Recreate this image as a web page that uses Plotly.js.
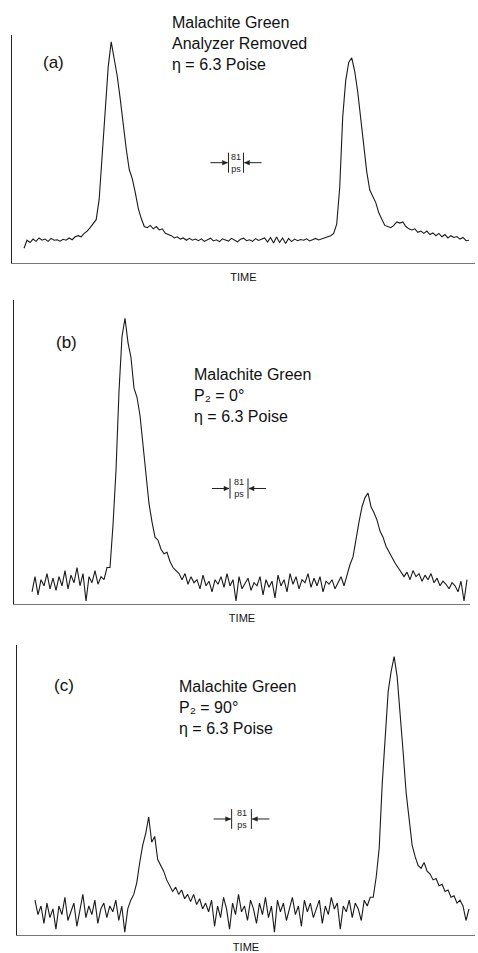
<!DOCTYPE html>
<html>
<head>
<meta charset="utf-8">
<script src="https://cdn.plot.ly/plotly-3.0.1.min.js"></script>
<style>html,body{margin:0;padding:0;background:#fff;}#chart{width:478px;height:953px;}</style>
</head>
<body>
<div id="chart"></div>
<script>
// Channel (time) index where each recorded trace starts
const startA = 4;
const startB = 6;
const startC = 6;

// (a) Malachite Green, analyzer removed, eta = 6.3 Poise (relative intensity)
const traceA = [
  6.5,10,9,10.5,9.5,11,10,10.5,9.5,10.8,
  10,10.2,9.6,10.4,10,11,10.2,11.5,12,11.5,
  13,14,15.5,17,19,28,48,68,86,97,
  90,82,72,60,50,41,37,31,24,19.5,
  16,15.5,16.5,15,16,14.5,15,13,12.5,12,
  11,11.5,10.5,11,10,10.8,10,
  10.5,9.8,10.6,9.5,10.3,10.9,9.7,10.2,9.4,10.6,
  10.1,9.6,10.8,10,9.3,10.4,10.9,9.8,10.2,9.5,
  10.7,9.9,10.4,11,9.2,11.2,8.8,11.4,9,11,
  8.6,10.8,9.4,10.5,9.8,10.3,10,10.6,9.7,10.2,
  10.8,10.1,10.5,10.9,11.3,12,
  13,17,33,64,80,88,90,84,75,63,
  52,40,32,29,26.5,22,19,16.5,16,15.5,
  16.5,18,17.5,18,16,15,14.5,15,13.5,14,
  13,14,12.5,13.2,12,13,11.5,12.5,11,12,
  11.2,11.6,10.5,11.2,9.8,10
];

// (b) Malachite Green, P2 = 0 deg
const traceB = [
  4,9,3,8,6,10,5,8.5,4.5,9,
  6,11,5,9.5,7,12,6,10,1,9,
  7,11,6.5,9,8,12,
  12,26,44,70,88,94,86,81,71,68,
  62,52,42,33,27,22,21,18,16.5,17,
  14,12,11,10,8,10,6.5,9,7,
  8,5,9.5,6,7.5,4,8,6.5,9,5.5,
  10,6,8,1,9,5,7,8.5,4.5,7,
  6,9,3,8,5.5,7.5,2,9.5,6,8,
  4,10,6.5,9,5,8,7,10,5.5,8.5,
  6,9,4,7.5,6.5,8,5,7,9,
  6,10,13,15.5,22,27,32,35,36.5,32,
  30,27.6,24,22,19,17,15.5,13.5,12,10.5,
  9,10.5,8,11,9,10,7.5,9.5,8,10,
  7,8.5,6,7.5,6.5,5,7,6,4,7.5,
  1,8
];

// (c) Malachite Green, P2 = 90 deg
const traceC = [
  12,7,10,4,11,6,9,2,10,7,
  13,5,8,11,3,9,14,6,10,7,
  12,4,9,11,6,10,8,12,5,10,
  1,9,
  12,14,18,25,31,35,40.7,32,34,26,
  24,22,19,17,15,16.5,14,15.5,12.5,14,
  11.5,14,10.5,12.5,9,11,
  8,12,3,10,6,13,9,2,11,7,
  14,8,10,5,12,9,4,11,7,13,
  6,10,1,12,8,11,5,9,13,7,
  10,3,12,8,11,6,9,12,4,10,
  7,13,9,11,2,10,8,12,6,11,
  9,5,12,10,13,
  13,20,30,52,70,84,91,96,89,77,
  63,49,39,31,27,24,23,25,22,21,
  19,19.5,17,17.5,15,15.5,13,13.5,11,12,
  10,5,9
];

// 81 ps scale bar: channel positions of the two bars and its height in each panel
const barA = [72, 77], barAy = 44;
const barB = [72, 78], barBy = 38;
const barC = [71.7, 78.3], barCy = 40;

const labelA = 'Malachite Green<br>Analyzer Removed<br>η = 6.3 Poise';
const labelB = 'Malachite Green<br>P₂ = 0°<br>η = 6.3 Poise';
const labelC = 'Malachite Green<br>P₂ = 90°<br>η = 6.3 Poise';

function xs(start, arr) { return arr.map((_, i) => start + i); }

const lineStyle = {color: '#1a1a1a', width: 1.1};
const data = [
  {x: xs(startA, traceA), y: traceA, xaxis: 'x', yaxis: 'y', mode: 'lines', line: lineStyle, hoverinfo: 'skip'},
  {x: xs(startB, traceB), y: traceB, xaxis: 'x2', yaxis: 'y2', mode: 'lines', line: lineStyle, hoverinfo: 'skip'},
  {x: xs(startC, traceC), y: traceC, xaxis: 'x3', yaxis: 'y3', mode: 'lines', line: lineStyle, hoverinfo: 'skip'}
];

const FONT = 'Liberation Sans, Arial, sans-serif';
function xax(domain, range, anchor) {
  return {domain: domain, range: range, anchor: anchor, showline: true, linecolor: '#777', linewidth: 1.2,
    showgrid: false, zeroline: false, showticklabels: false, ticks: '', fixedrange: true,
    title: {text: 'TIME', font: {family: FONT, size: 11, color: '#111'}, standoff: 10}};
}
function yax(domain, anchor) {
  return {domain: domain, range: [0, 100], anchor: anchor, showline: true, linecolor: '#222', linewidth: 1,
    showgrid: false, zeroline: false, showticklabels: false, ticks: '', fixedrange: true};
}

const shapes = [];
const annotations = [];
function scaleBar(bar, yc, half, xr, yr) {
  const ln = {color: '#222', width: 1};
  bar.forEach(b => shapes.push({type: 'line', xref: xr, yref: yr, x0: b, x1: b, y0: yc - half, y1: yc + half, line: ln}));
  // arrow shafts (pixel lengths) pointing in toward the bars
  [[bar[0], -1], [bar[1], 1]].forEach(([b, s]) => {
    shapes.push({type: 'line', xref: xr, yref: yr, xsizemode: 'pixel', ysizemode: 'pixel',
      xanchor: b, yanchor: yc, x0: s * 18, x1: s * 1, y0: 0, y1: 0, line: ln});
    shapes.push({type: 'path', xref: xr, yref: yr, xsizemode: 'pixel', ysizemode: 'pixel',
      xanchor: b, yanchor: yc, path: `M ${s * 6} -2.2 L ${s * 1} 0 L ${s * 6} 2.2 Z`,
      fillcolor: '#222', line: {color: '#222', width: 0.5}});
  });
  annotations.push({xref: xr, yref: yr, x: (bar[0] + bar[1]) / 2, y: yc, text: '81<br>ps', showarrow: false,
    font: {family: FONT, size: 9, color: '#222'}, xanchor: 'center', yanchor: 'middle'});
}
scaleBar(barA, barAy, 4.4, 'x', 'y');
scaleBar(barB, barBy, 3.3, 'x2', 'y2');
scaleBar(barC, barCy, 3.4, 'x3', 'y3');

function textBlock(txt, x, y) {
  annotations.push({xref: 'paper', yref: 'paper', x: x, y: y, text: txt, showarrow: false, align: 'left',
    xanchor: 'left', yanchor: 'middle', font: {family: FONT, size: 16, color: '#111'}});
}
textBlock(labelA, 0.355, 0.9544);
textBlock(labelB, 0.401, 0.5845);
textBlock(labelC, 0.370, 0.2571);

function panelTag(txt, x, y) {
  annotations.push({xref: 'paper', yref: 'paper', x: x, y: y, text: txt, showarrow: false,
    xanchor: 'left', yanchor: 'middle', font: {family: FONT, size: 17, color: '#111'}});
}
panelTag('(a)', 0.085, 0.9349);
panelTag('(b)', 0.112, 0.6411);
panelTag('(c)', 0.108, 0.2812);

const layout = {
  width: 478, height: 953,
  margin: {l: 0, r: 0, t: 0, b: 0},
  paper_bgcolor: '#fff', plot_bgcolor: '#fff',
  showlegend: false,
  xaxis: xax([0.0251, 0.9937], [0, 154], 'y'),
  yaxis: yax([0.7240, 0.9633], 'x'),
  xaxis2: xax([0.0293, 0.9833], [0, 152], 'y2'),
  yaxis2: yax([0.3662, 0.6852], 'x2'),
  xaxis3: xax([0.0356, 0.9937], [0, 153], 'y3'),
  yaxis3: yax([0.0189, 0.3232], 'x3'),
  shapes: shapes,
  annotations: annotations
};

Plotly.newPlot('chart', data, layout, {displayModeBar: false, staticPlot: true});
</script>
</body>
</html>
